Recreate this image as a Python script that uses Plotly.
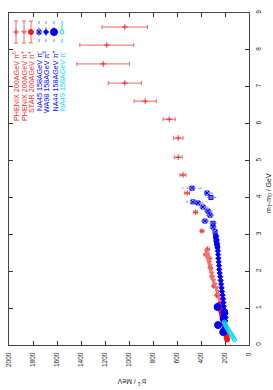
import plotly.graph_objects as go

# ---------------- data (mT-m0 in GeV, b^-1 in MeV) ----------------
phenix_pi0_mt = [8.62, 8.13, 7.62, 7.10, 6.61, 6.12, 5.61, 5.09, 4.61, 4.12, 3.60, 3.09, 2.60, 2.45, 2.35, 2.10, 1.85, 1.60, 1.35]
phenix_pi0_b = [1035, 1185, 1215, 1035, 865, 665, 590, 590, 550, 515, 445, 392, 345, 360, 330, 322, 308, 295, 270]
phenix_pi0_err = [190, 225, 220, 138, 92, 50, 40, 33, 25, 20, 15, 12, 14, 14, 12, 10, 10, 8, 8]

phenix_pip_mt = [0.25, 0.35, 0.45, 0.55, 0.65, 0.75, 0.85, 0.95, 1.05, 1.15, 1.25, 1.35, 1.45, 1.55, 1.65, 1.75, 1.85, 1.95, 2.05, 2.15, 2.25, 2.35, 2.45, 2.55]
phenix_pip_b = [188, 195, 200, 205, 210, 215, 220, 226, 232, 238, 244, 252, 262, 272, 285, 296, 305, 312, 318, 324, 332, 340, 346, 352]
phenix_pip_err = [4, 4, 4, 4, 5, 5, 5, 5, 6, 6, 6, 7, 7, 7, 8, 8, 8, 9, 9, 10, 10, 11, 12, 12]

star_pip_mt = [0.15, 0.20, 0.25, 0.30, 0.35, 0.40, 0.45, 0.50, 0.55, 0.60, 0.65, 0.70, 0.75, 0.80, 0.85, 0.90, 0.95, 1.00, 1.05, 1.10]
star_pip_b = [182, 185, 188, 191, 194, 197, 200, 203, 206, 209, 212, 215, 218, 222, 226, 230, 234, 238, 242, 246]
star_pip_err = [3, 3, 3, 3, 3, 3, 3, 3, 3, 4, 4, 4, 4, 4, 4, 5, 5, 5, 5, 5]

na45_pim_mt = [4.25, 4.12, 4.00, 3.88, 3.85, 3.74, 3.63, 3.52, 3.36, 3.30, 3.20, 3.07, 2.95, 2.85, 2.75, 2.66]
na45_pim_b = [475, 350, 317, 467, 425, 383, 342, 325, 367, 300, 300, 283, 278, 275, 270, 262]
na45_pim_err = [80, 50, 45, 60, 50, 45, 40, 35, 40, 30, 30, 25, 20, 20, 18, 15]

wa98_pi0_mt = [0.45, 0.55, 0.65, 0.75, 0.85, 0.95, 1.05, 1.15, 1.25, 1.35, 1.45, 1.55, 1.65, 1.75, 1.85, 1.95, 2.05, 2.15, 2.25, 2.35, 2.45, 2.55, 2.65, 2.75, 2.85, 2.95]
wa98_pi0_b = [205, 200, 197, 195, 200, 205, 210, 213, 216, 220, 224, 228, 232, 236, 240, 244, 248, 250, 252, 255, 257, 259, 262, 265, 268, 272]
wa98_pi0_err = [8, 8, 8, 8, 8, 9, 9, 9, 9, 10, 10, 10, 10, 10, 11, 11, 11, 12, 12, 12, 12, 13, 13, 14, 14, 15]

na44_pip_mt = [0.35, 0.54, 0.72, 0.88, 1.03]
na44_pip_b = [215, 258, 212, 205, 262]
na44_pip_err = [15, 25, 15, 15, 25]

na49_pim_mt = [0.62, 0.58, 0.54, 0.50, 0.46, 0.42, 0.38, 0.34, 0.30, 0.26, 0.22, 0.18, 0.14]
na49_pim_b = [205, 200, 195, 190, 182, 175, 168, 160, 150, 142, 135, 127, 120]
na49_pim_err = [10, 10, 9, 9, 9, 8, 8, 8, 7, 7, 7, 6, 6]

legend_labels = ["PHENIX 200AGeV π<sup>0</sup>", "PHENIX 200AGeV π<sup>+</sup>", "STAR 200AGeV π<sup>+</sup>",
                 "NA45 158AGeV π<sup>-</sup>", "WA98 158AGeV π<sup>0</sup>", "NA44 158AGeV π<sup>+</sup>",
                 "NA49 158AGeV π<sup>-</sup>"]

b_ticks = [0, 200, 400, 600, 800, 1000, 1200, 1400, 1600, 1800, 2000]
mt_ticks = [0, 1, 2, 3, 4, 5, 6, 7, 8, 9]

RED = "rgb(240,40,40)"
RED_LIGHT = "rgb(245,110,110)"
RED_ERR = "rgb(240,100,100)"
BLUE = "rgb(0,0,255)"
BLUE_ERR = "rgb(120,120,255)"
CYAN = "rgb(0,225,235)"

series = [
    dict(mt=phenix_pi0_mt, b=phenix_pi0_b, e=phenix_pi0_err, color=RED, tcolor=RED, ecolor=RED_ERR, symbol="cross-thin-open", size=4, dash=None),
    dict(mt=phenix_pip_mt, b=phenix_pip_b, e=phenix_pip_err, color=RED_LIGHT, tcolor=RED, ecolor=RED_ERR, symbol="triangle-down", size=4, dash=None),
    dict(mt=star_pip_mt, b=star_pip_b, e=star_pip_err, color="rgb(255,20,20)", tcolor=RED, ecolor=RED_ERR, symbol="circle", size=5, dash=None),
    dict(mt=na45_pim_mt, b=na45_pim_b, e=na45_pim_err, color=BLUE, tcolor=BLUE, ecolor=BLUE_ERR, symbol="square-x-open", size=4, dash="dot"),
    dict(mt=wa98_pi0_mt, b=wa98_pi0_b, e=wa98_pi0_err, color=BLUE, tcolor=BLUE, ecolor=BLUE_ERR, symbol="diamond", size=4, dash="dot"),
    dict(mt=na44_pip_mt, b=na44_pip_b, e=na44_pip_err, color=BLUE, tcolor=BLUE, ecolor=BLUE_ERR, symbol="circle", size=7, dash="dot"),
    dict(mt=na49_pim_mt, b=na49_pim_b, e=na49_pim_err, color=CYAN, tcolor=CYAN, ecolor=CYAN, symbol="circle-open", size=4, dash="dash"),
]

fig = go.Figure()

for s in series:
    if s["dash"] is None:
        fig.add_trace(go.Scatter(
            x=s["b"], y=s["mt"], mode="markers",
            marker=dict(symbol=s["symbol"], size=s["size"], color=s["color"],
                        line=dict(color=s["color"], width=1)),
            error_x=dict(type="data", array=s["e"], color=s["ecolor"], thickness=1, width=2),
            showlegend=False, hoverinfo="skip"))
    else:
        ex, ey = [], []
        for bb, mm, ee in zip(s["b"], s["mt"], s["e"]):
            ex += [bb - ee, bb + ee, None]
            ey += [mm, mm, None]
        fig.add_trace(go.Scatter(x=ex, y=ey, mode="lines",
                                 line=dict(color=s["ecolor"], width=1, dash=s["dash"]),
                                 showlegend=False, hoverinfo="skip"))
        fig.add_trace(go.Scatter(
            x=s["b"], y=s["mt"], mode="markers",
            marker=dict(symbol=s["symbol"], size=s["size"], color=s["color"],
                        line=dict(color=s["color"], width=1)),
            showlegend=False, hoverinfo="skip"))

# ---------------- geometry (page pixels; body margin removed by post_script) ----------------
W, H = 273, 390
FL, FR, FT, FB = 9, 249, 13, 345      # frame edges in page pixels
L, T = FL, FT
R = W - FR
B = H - FB
pw, ph = FR - FL, FB - FT

def px2x(p):
    return (p - FL) / pw

def py2y(p):
    return (FB - p) / ph

key_cols = [16, 24, 31, 39, 46, 54, 62]
for s, c, lab in zip(series, key_cols, legend_labels):
    xc = px2x(c)
    if s["dash"] is None:
        fig.add_trace(go.Scatter(
            x=[xc], y=[py2y(32)], xaxis="x2", yaxis="y2", mode="markers",
            marker=dict(symbol=s["symbol"], size=s["size"], color=s["color"],
                        line=dict(color=s["color"], width=1)),
            error_y=dict(type="data", array=[py2y(21) - py2y(32)], arrayminus=[py2y(32) - py2y(43)],
                         color=s["ecolor"], thickness=1, width=2),
            showlegend=False, hoverinfo="skip"))
    else:
        fig.add_trace(go.Scatter(
            x=[xc, xc], y=[py2y(21), py2y(43)], xaxis="x2", yaxis="y2", mode="lines",
            line=dict(color=s["ecolor"], width=1, dash=s["dash"]),
            showlegend=False, hoverinfo="skip"))
        fig.add_trace(go.Scatter(
            x=[xc], y=[py2y(32)], xaxis="x2", yaxis="y2", mode="markers",
            marker=dict(symbol=s["symbol"], size=s["size"], color=s["color"],
                        line=dict(color=s["color"], width=1)),
            showlegend=False, hoverinfo="skip"))
    fig.add_annotation(x=xc, y=py2y(49), xref="paper", yref="paper", text=lab,
                       textangle=-90, showarrow=False, xanchor="center", yanchor="top",
                       font=dict(family="Liberation Sans, Arial, sans-serif", size=7.2, color=s["tcolor"]))

fig.add_annotation(x=px2x(269), y=py2y(193), xref="paper", yref="paper",
                   text="m<sub>T</sub>-m<sub>0</sub> / GeV", textangle=-90, showarrow=False,
                   xanchor="center", yanchor="middle",
                   font=dict(family="Liberation Sans, Arial, sans-serif", size=7, color="#222"))
fig.add_annotation(x=px2x(132), y=py2y(382), xref="paper", yref="paper",
                   text="b<sup>-1</sup> / MeV", textangle=180, showarrow=False,
                   xanchor="center", yanchor="middle",
                   font=dict(family="Liberation Sans, Arial, sans-serif", size=7, color="#222"))

axis_font = dict(family="Liberation Sans, Arial, sans-serif", size=6.5, color="#222")
fig.update_layout(
    width=W, height=H, autosize=False,
    margin=dict(l=L, r=R, t=T, b=B, pad=0, autoexpand=False),
    paper_bgcolor="white", plot_bgcolor="white",
    xaxis=dict(range=[2000, 0], tickvals=b_ticks, ticktext=[str(v) for v in b_ticks],
               ticks="inside", ticklen=4, tickcolor="#333", mirror="allticks",
               showline=True, linecolor="#444", linewidth=1, showgrid=False, zeroline=False,
               tickangle=-90, tickfont=axis_font, ticklabelstandoff=4, ticklabeloverflow="allow"),
    yaxis=dict(range=[0, 9], tickvals=mt_ticks, ticktext=[str(v) for v in mt_ticks], side="right",
               ticks="inside", ticklen=4, tickcolor="#333", mirror="allticks",
               showline=True, linecolor="#444", linewidth=1, showgrid=False, zeroline=False,
               tickangle=-90, tickfont=axis_font, ticklabelstandoff=3, ticklabeloverflow="allow"),
    xaxis2=dict(range=[0, 1], overlaying="x", visible=False, fixedrange=True),
    yaxis2=dict(range=[0, 1], overlaying="y", visible=False, fixedrange=True),
)

fig.write_html("out.html", config={"displayModeBar": False, "staticPlot": True},
               post_script="document.body.style.margin='0px';")
